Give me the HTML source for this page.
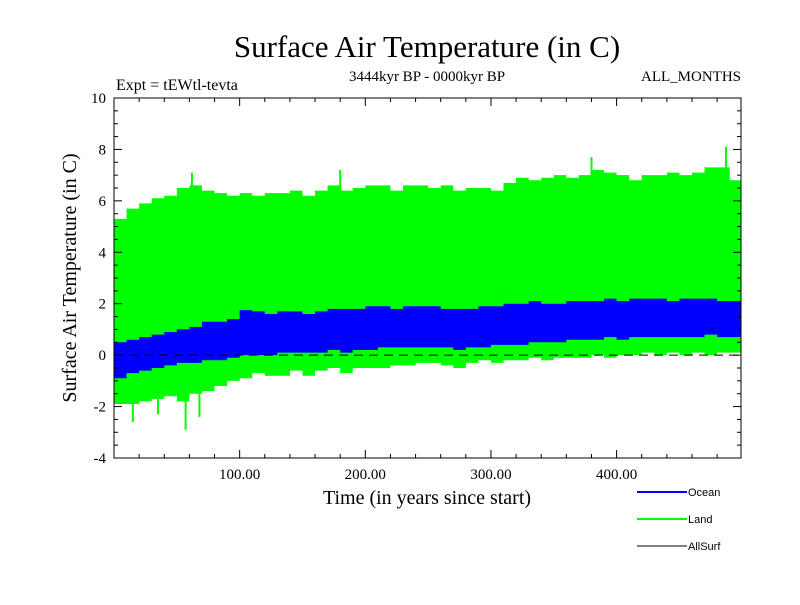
<!DOCTYPE html>
<html><head><meta charset="utf-8"><style>
body{margin:0;background:#fff;width:800px;height:600px;overflow:hidden}
svg text{font-family:"Liberation Serif",serif;fill:#000}
</style></head><body>
<svg id="chart" width="800" height="600">
<text x="427" y="57" text-anchor="middle" font-size="31">Surface Air Temperature (in C)</text>
<text x="116" y="90" font-size="16">Expt = tEWtl-tevta</text>
<text x="427" y="81" text-anchor="middle" font-size="15">3444kyr BP - 0000kyr BP</text>
<text x="741" y="81" text-anchor="end" font-size="15">ALL_MONTHS</text>
<text transform="translate(76,278) rotate(-90)" text-anchor="middle" font-size="20">Surface Air Temperature (in C)</text>
<text x="427" y="504" text-anchor="middle" font-size="20">Time (in years since start)</text>
<g id="plot"></g>
<g>
<line x1="637" y1="492" x2="687" y2="492" stroke="#00f" stroke-width="2"/>
<text x="688" y="496" font-size="11" style="font-family:'Liberation Sans',sans-serif">Ocean</text>
<line x1="637" y1="519" x2="687" y2="519" stroke="#0f0" stroke-width="2"/>
<text x="688" y="523" font-size="11" style="font-family:'Liberation Sans',sans-serif">Land</text>
<line x1="637" y1="546" x2="687" y2="546" stroke="#000" stroke-width="1"/>
<text x="688" y="550" font-size="11" style="font-family:'Liberation Sans',sans-serif">AllSurf</text>
</g>
</svg>
<script>
var binYears=[0,10,20,30,40,50,60,70,80,90,100,110,120,130,140,150,160,170,180,190,200,210,220,230,240,250,260,270,280,290,300,310,320,330,340,350,360,370,380,390,400,410,420,430,440,450,460,470,480,490];
var landHi=[5.3,5.7,5.9,6.1,6.2,6.5,6.6,6.4,6.3,6.2,6.3,6.2,6.3,6.3,6.4,6.2,6.4,6.6,6.4,6.5,6.6,6.6,6.4,6.6,6.6,6.5,6.6,6.4,6.5,6.5,6.4,6.7,6.9,6.8,6.9,7.0,6.9,7.0,7.2,7.1,7.0,6.8,7.0,7.0,7.1,7.0,7.1,7.3,7.3,6.8];
var landLo=[-1.9,-1.9,-1.8,-1.7,-1.6,-1.8,-1.5,-1.4,-1.2,-1.0,-0.9,-0.7,-0.8,-0.8,-0.6,-0.8,-0.6,-0.5,-0.7,-0.5,-0.5,-0.5,-0.4,-0.4,-0.3,-0.3,-0.4,-0.5,-0.3,-0.2,-0.3,-0.2,-0.2,-0.1,-0.2,-0.1,-0.1,-0.1,0.0,-0.1,0.0,0.0,0.1,0.0,0.1,0.0,0.1,0.0,0.1,0.1];
var oceanHi=[0.5,0.6,0.7,0.8,0.9,1.0,1.1,1.3,1.3,1.4,1.75,1.7,1.6,1.7,1.7,1.6,1.7,1.8,1.8,1.8,1.9,1.9,1.8,1.9,1.9,1.9,1.8,1.8,1.8,1.9,1.9,2.0,2.0,2.1,2.0,2.0,2.1,2.1,2.1,2.2,2.1,2.2,2.2,2.2,2.1,2.2,2.2,2.2,2.1,2.1];
var oceanLo=[-0.9,-0.7,-0.6,-0.5,-0.4,-0.3,-0.3,-0.2,-0.2,-0.1,0.0,0.0,0.0,0.1,0.1,0.1,0.1,0.2,0.1,0.2,0.2,0.3,0.3,0.3,0.3,0.3,0.3,0.2,0.3,0.3,0.4,0.4,0.4,0.5,0.5,0.5,0.6,0.6,0.6,0.7,0.6,0.7,0.7,0.7,0.7,0.7,0.7,0.8,0.7,0.7];
var spikeYears=[15,35,57,68,62,180,380,487];
var spikeVals=[-2.6,-2.3,-2.9,-2.4,7.1,7.2,7.7,8.1];
var xTicks=[100,200,300,400];
var xTickLabels=["100.00","200.00","300.00","400.00"];
var yTicks=[-4,-2,0,2,4,6,8,10];
var yTickLabels=["-4","-2","0","2","4","6","8","10"];

var L=114,R=741,T=98,B=458,xMin=0,xMax=499,yMin=-4,yMax=10;
function xs(v){return L+(v-xMin)/(xMax-xMin)*(R-L);}
function ys(v){return B-(v-yMin)/(yMax-yMin)*(B-T);}
var NS="http://www.w3.org/2000/svg",g=document.getElementById('plot');
function mk(t,a){var e=document.createElementNS(NS,t);for(var k in a)e.setAttribute(k,a[k]);g.appendChild(e);return e;}
function band(hi,lo,col,name){
  var top=[],bot=[];
  for(var i=0;i<binYears.length;i++){
    var x0=xs(binYears[i]),x1=xs(Math.min(binYears[i]+10,xMax));
    top.push(x0+','+ys(hi[i]),x1+','+ys(hi[i]));
    bot.unshift(x1+','+ys(lo[i]),x0+','+ys(lo[i]));
  }
  var p=mk('polygon',{points:top.concat(bot).join(' '),fill:col});
  
  
}
band(landHi,landLo,'#00ff00','land-series');
for(var i=0;i<spikeYears.length;i++){
  var s=mk('line',{x1:xs(spikeYears[i]),x2:xs(spikeYears[i]),y1:ys(spikeVals[i]),y2:ys(spikeVals[i]<0?0:4),stroke:'#00ff00','stroke-width':2});
  
  
}
band(oceanHi,oceanLo,'#0000ff','ocean-series');
var z=mk('line',{x1:L,x2:R,y1:ys(0),y2:ys(0),stroke:'#000','stroke-dasharray':'9,6'});


var fr=mk('rect',{x:L,y:T,width:R-L,height:B-T,fill:'none',stroke:'#000'});


for(var yr=0;yr<=xMax;yr+=20){
  var big=yr%100==0,len=big?8:4;
  mk('line',{x1:xs(yr),x2:xs(yr),y1:B,y2:B-len,stroke:'#000'});
  mk('line',{x1:xs(yr),x2:xs(yr),y1:T,y2:T+len,stroke:'#000'});
}
for(var v=yMin;v<=yMax;v+=0.5){
  var len2=(v%2==0)?8:4;
  mk('line',{x1:L,x2:L+len2,y1:ys(v),y2:ys(v),stroke:'#000'});
  mk('line',{x1:R,x2:R-len2,y1:ys(v),y2:ys(v),stroke:'#000'});
}
for(var i=0;i<xTicks.length;i++){
  var t=mk('text',{x:xs(xTicks[i]),y:B+21,'text-anchor':'middle','font-size':15});
  t.textContent=xTickLabels[i];
  
  
}
for(var i=0;i<yTicks.length;i++){
  var t2=mk('text',{x:L-8,y:ys(yTicks[i])+5,'text-anchor':'end','font-size':15});
  t2.textContent=yTickLabels[i];
  
  
}
</script>
</body></html>
